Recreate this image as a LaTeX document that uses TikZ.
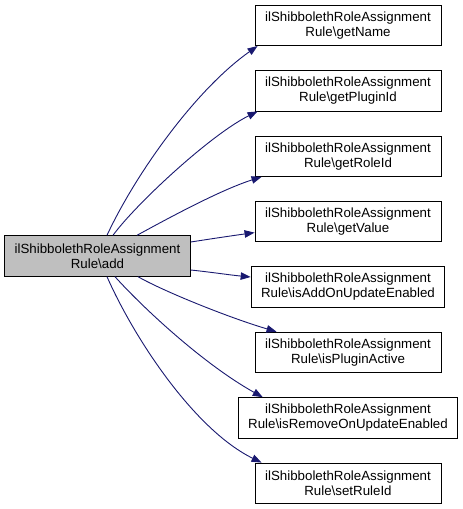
\documentclass[tikz,border=0pt]{standalone}
\usepackage{fontspec}
\setmainfont{Liberation Sans}
\usetikzlibrary{arrows.meta}
\definecolor{edgeblue}{HTML}{191970}
\definecolor{boxgray}{HTML}{BFBFBF}
\begin{document}
\begin{tikzpicture}[x=1pt,y=-1pt,
  box/.style={draw=black,line width=0.9pt,fill=white,minimum width=186pt,minimum height=40.5pt,
    inner xsep=10pt,inner ysep=2pt,align=center,font=\fontsize{13.3}{15}\selectfont},
  mainbox/.style={box,fill=boxgray,minimum width=185pt},
  edge/.style={draw=edgeblue,line width=0.9pt,-{Triangle[length=10pt,width=7.5pt]}}]
\useasboundingbox (0,0) rectangle (463,509);
\node[mainbox] (add) at (97.5,256) {ilShibbolethRoleAssignment\\Rule\textbackslash add};
\node[box] (n1) at (348,25.3) {ilShibbolethRoleAssignment\\Rule\textbackslash getName};
\node[box] (n2) at (348,90.7) {ilShibbolethRoleAssignment\\Rule\textbackslash getPluginId};
\node[box] (n3) at (348,156.2) {ilShibbolethRoleAssignment\\Rule\textbackslash getRoleId};
\node[box] (n4) at (348,221.6) {ilShibbolethRoleAssignment\\Rule\textbackslash getValue};
\node[box] (n5) at (348,287.0) {ilShibbolethRoleAssignment\\Rule\textbackslash isAddOnUpdateEnabled};
\node[box] (n6) at (348,352.4) {ilShibbolethRoleAssignment\\Rule\textbackslash isPluginActive};
\node[box] (n7) at (348,417.9) {ilShibbolethRoleAssignment\\Rule\textbackslash isRemoveOnUpdateEnabled};
\node[box] (n8) at (348,483.3) {ilShibbolethRoleAssignment\\Rule\textbackslash setRuleId};
\draw[edge] ([xshift=9.5pt]add.north) .. controls (135,175) and (195,90) .. ([xshift=3pt]n1.south west);
\draw[edge] ([xshift=15.5pt]add.north) .. controls (135,205) and (210,135) .. ([xshift=3pt]n2.south west);
\draw[edge] ([xshift=39.5pt]add.north) .. controls (165,220) and (220,190) .. ([xshift=7pt]n3.south west);
\draw[edge] ([yshift=14pt]add.east) .. controls (210,239) and (230,236) .. ([yshift=-11pt]n4.west);
\draw[edge] ([yshift=-14pt]add.east) .. controls (210,272) and (230,275) .. ([yshift=10pt]n5.west);
\draw[edge] ([xshift=40.5pt]add.south) .. controls (165,292) and (230,318) .. ([xshift=22pt]n6.north west);
\draw[edge] ([xshift=17.5pt]add.south) .. controls (145,310) and (205,365) .. ([xshift=25pt]n7.north west);
\draw[edge] ([xshift=9.5pt]add.south) .. controls (135,340) and (195,430) .. ([xshift=7pt]n8.north west);
\end{tikzpicture}
\end{document}
